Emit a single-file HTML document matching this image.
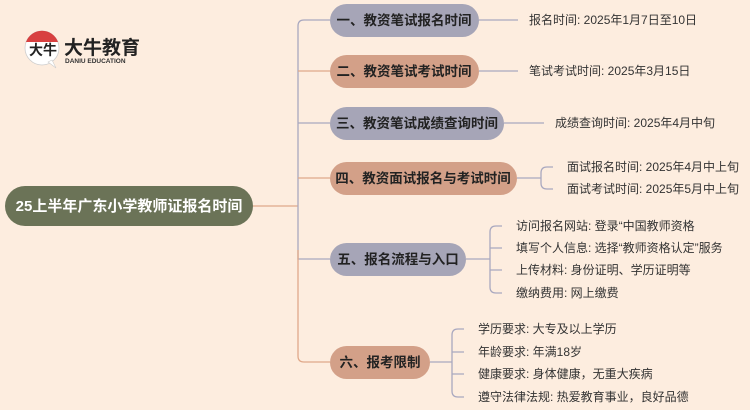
<!DOCTYPE html>
<html><head><meta charset="utf-8"><style>
html,body{margin:0;padding:0;background:#fdeddf;}
svg{display:block;font-family:"Liberation Sans","Noto Sans CJK SC",sans-serif;}
.b{font-size:13.5px;font-weight:bold;fill:#222;}
.l{font-size:12px;fill:#333;}
</style></head><body>
<svg width="750" height="410" viewBox="0 0 750 410" xmlns="http://www.w3.org/2000/svg">
<rect width="750" height="410" fill="#fdeddf"/>
<!-- logo -->
<circle cx="42" cy="48" r="17" fill="#fff" stroke="#ccc" stroke-width="0.8"/>
<path d="M26 42 A17 17 0 0 1 58 42 Z" fill="#d42b2b" opacity="0.9"/>
<path d="M48 62 L56 68 L52 60 Z" fill="#fff" stroke="#ccc" stroke-width="0.6"/>
<text x="29" y="55" font-size="14" font-weight="bold" fill="#222">大牛</text>
<text x="64" y="54" font-size="19" font-weight="bold" fill="#222">大牛教育</text>
<text x="65" y="63" font-size="6.5" font-weight="bold" fill="#333">DANIU EDUCATION</text>
<!-- trunk -->
<g fill="none" stroke-width="1.3">
<path d="M253 206 H298" stroke="#e0a98a"/>
<path d="M298 206 V26 Q298 20 304 20 H330" stroke="#a9a8bf"/>
<path d="M298 71 H330" stroke="#e0a98a"/>
<path d="M298 123 H330" stroke="#a9a8bf"/>
<path d="M298 178 H330" stroke="#e0a98a"/>
<path d="M298 206 V259 H330" stroke="#a9a8bf"/>
<path d="M298 250 V356 Q298 362 304 362 H330" stroke="#e0a98a"/>
<!-- leaves -->
<path d="M479 20 H518 M479 71 H518 M504 123 H544" stroke="#a9a8bf"/>
<path d="M517 178 H541 M553 167 H547 Q541 167 541 173 V183 Q541 189 547 189 H553" stroke="#a9a8bf"/>
<path d="M466 259 H490 M502 226 H496 Q490 226 490 232 V287 Q490 293 496 293 H502 M490 248 H502 M490 270 H502" stroke="#a9a8bf"/>
<path d="M430 362 H452 M464 329 H458 Q452 329 452 335 V391 Q452 397 458 397 H464 M452 352 H464 M452 374 H464" stroke="#a9a8bf"/>
</g>
<!-- root -->
<rect x="5" y="186" width="248" height="40" rx="20" fill="#6b7357"/>
<text x="129" y="211" text-anchor="middle" font-size="15" font-weight="bold" fill="#fff">25上半年广东小学教师证报名时间</text>
<!-- branches -->
<rect x="330" y="4" width="149" height="33" rx="16.5" fill="#a6a5b7"/>
<text x="404" y="25" text-anchor="middle" class="b">一、教资笔试报名时间</text>
<rect x="330" y="55" width="149" height="33" rx="16.5" fill="#d3a088"/>
<text x="404" y="76" text-anchor="middle" class="b">二、教资笔试考试时间</text>
<rect x="330" y="107" width="174" height="33" rx="16.5" fill="#a6a5b7"/>
<text x="417" y="128" text-anchor="middle" class="b">三、教资笔试成绩查询时间</text>
<rect x="330" y="162" width="187" height="33" rx="16.5" fill="#d3a088"/>
<text x="423" y="183" text-anchor="middle" class="b">四、教资面试报名与考试时间</text>
<rect x="330" y="243" width="136" height="33" rx="16.5" fill="#a6a5b7"/>
<text x="398" y="264" text-anchor="middle" class="b">五、报名流程与入口</text>
<rect x="330" y="346" width="100" height="33" rx="16.5" fill="#d3a088"/>
<text x="380" y="367" text-anchor="middle" class="b">六、报考限制</text>
<!-- leaf text -->
<text x="529" y="24" class="l">报名时间: 2025年1月7日至10日</text>
<text x="529" y="75" class="l">笔试考试时间: 2025年3月15日</text>
<text x="555" y="127" class="l">成绩查询时间: 2025年4月中旬</text>
<text x="567" y="171" class="l">面试报名时间: 2025年4月中上旬</text>
<text x="567" y="193" class="l">面试考试时间: 2025年5月中上旬</text>
<text x="516" y="230" class="l">访问报名网站: 登录“中国教师资格</text>
<text x="516" y="252" class="l">填写个人信息: 选择“教师资格认定”服务</text>
<text x="516" y="274" class="l">上传材料: 身份证明、学历证明等</text>
<text x="516" y="297" class="l">缴纳费用: 网上缴费</text>
<text x="478" y="333" class="l">学历要求: 大专及以上学历</text>
<text x="478" y="356" class="l">年龄要求: 年满18岁</text>
<text x="478" y="378" class="l">健康要求: 身体健康，无重大疾病</text>
<text x="478" y="401" class="l">遵守法律法规: 热爱教育事业，良好品德</text>
</svg>
</body></html>
